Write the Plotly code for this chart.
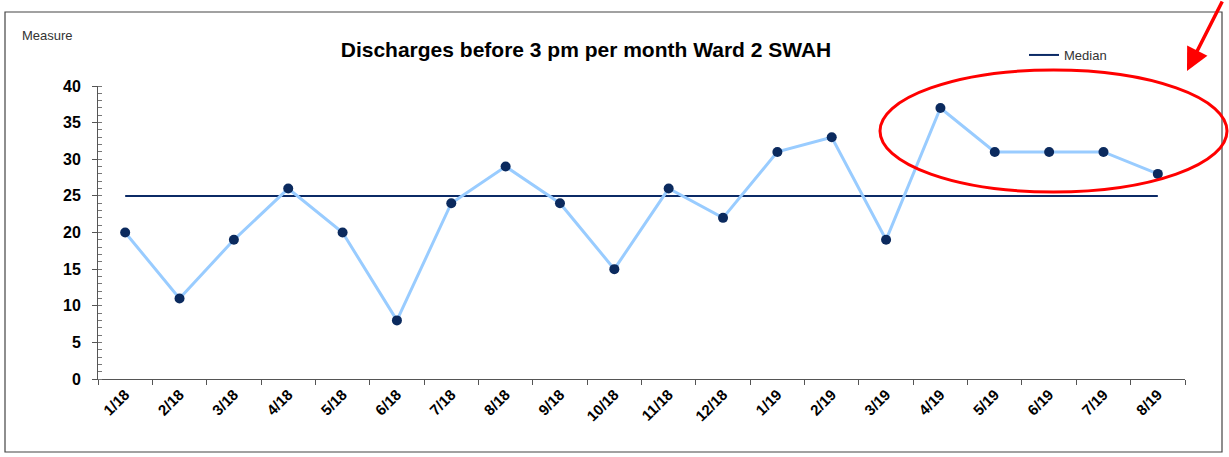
import plotly.graph_objects as go

months = ["1/18","2/18","3/18","4/18","5/18","6/18","7/18","8/18","9/18","10/18",
          "11/18","12/18","1/19","2/19","3/19","4/19","5/19","6/19","7/19","8/19"]
measure = [20, 11, 19, 26, 20, 8, 24, 29, 24, 15, 26, 22, 31, 33, 19, 37, 31, 31, 31, 28]
median = [25] * len(months)

W, H = 1229, 457
L, R, T, B = 98, 1185, 86, 379  # plot area in pixels
pw, ph = R - L, B - T

def px(x):
    return (x - L) / pw

def py(y):
    return (B - y) / ph

FONT = "Liberation Sans, Arial, sans-serif"

fig = go.Figure()
fig.add_trace(go.Scatter(x=months, y=median, mode="lines", name="Median",
                         line=dict(color="#0B2A66", width=2), showlegend=True))
fig.add_trace(go.Scatter(x=months, y=measure, mode="lines+markers", name="Measure",
                         line=dict(color="#99CCFF", width=3),
                         marker=dict(color="#0B2A5E", size=10),
                         showlegend=False))

fig.update_layout(
    width=W, height=H,
    margin=dict(l=L, r=W - R, t=T, b=H - B),
    paper_bgcolor="white", plot_bgcolor="white",
    font=dict(family=FONT, color="#000"),
    title=dict(text="<b>Discharges before 3 pm per month Ward 2 SWAH</b>",
               x=586 / W, xref="container", xanchor="center",
               y=1 - 50 / H, yref="container", yanchor="middle",
               font=dict(size=21, family=FONT, color="#000")),
    legend=dict(x=px(1024), y=py(40), xanchor="left", yanchor="top",
                font=dict(size=13, color="#333"), bgcolor="rgba(0,0,0,0)"),
    xaxis=dict(type="category", range=[-0.5, len(months) - 0.5],
               showgrid=False, showline=True, linecolor="#555", linewidth=1,
               ticks="outside", tickson="boundaries", ticklen=5, tickcolor="#555",
               tickangle=-45, tickfont=dict(size=15, family=FONT, color="#000"),
               tickprefix="<b>", ticksuffix="</b>",
               zeroline=False),
    yaxis=dict(range=[0, 40], dtick=5, showgrid=False, showline=True,
               linecolor="#555", linewidth=1, ticks="outside", ticklen=5,
               tickcolor="#555", zeroline=False, ticklabelstandoff=8,
               tickfont=dict(size=16, family=FONT, color="#000"),
               tickprefix="<b>", ticksuffix="</b>",
               minor=dict(ticks="inside", dtick=1, ticklen=4, tickcolor="#777")),
)

# outer frame
fig.add_shape(type="rect", xref="paper", yref="paper",
              x0=px(5), x1=px(1222), y0=py(452), y1=py(12),
              line=dict(color="#444", width=1.2), layer="below")
# red ellipse
fig.add_shape(type="circle", xref="paper", yref="paper",
              x0=px(880), x1=px(1227), y0=py(192), y1=py(70),
              line=dict(color="#FF0000", width=3))
# red arrow
fig.add_annotation(x=px(1187), y=py(71), xref="paper", yref="paper",
                   ax=36, ay=-74, showarrow=True, arrowhead=2, arrowsize=1.3,
                   arrowwidth=3.5, arrowcolor="#FF0000", text="")
# "Measure" label
fig.add_annotation(x=px(20), y=py(36), xref="paper", yref="paper",
                   text="Measure", showarrow=False, xanchor="left", yanchor="middle",
                   font=dict(size=13, color="#333", family=FONT))

fig.write_html("out.html", config={"displayModeBar": False},
               post_script="document.body.style.margin='0';")
